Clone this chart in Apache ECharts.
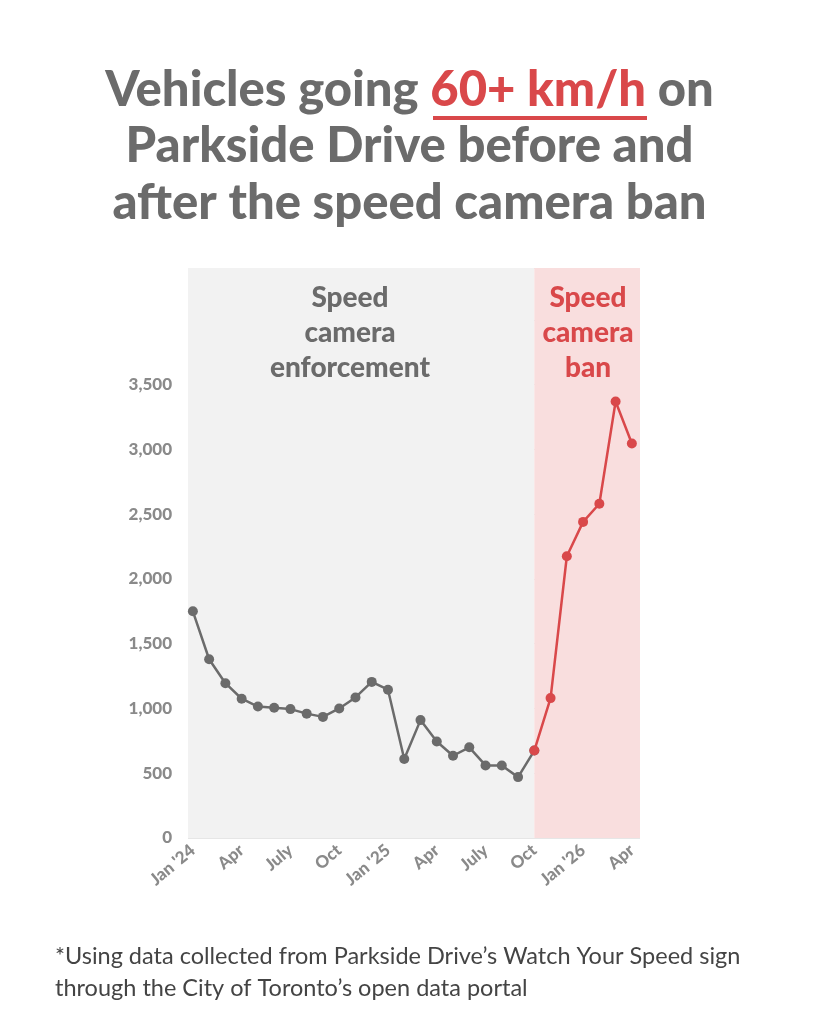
<!DOCTYPE html>
<html><head><meta charset="utf-8">
<script src="https://cdn.jsdelivr.net/npm/echarts@6/dist/echarts.min.js"></script>
<style>html,body{margin:0;padding:0;background:#fff}#c{width:819px;height:1024px}</style>
</head><body><div id="c"></div>
<script>
const months = ["Jan '24","Feb","Mar","Apr","May","Jun","July","Aug","Sep","Oct","Nov","Dec",
"Jan '25","Feb","Mar","Apr","May","Jun","July","Aug","Sep","Oct","Nov","Dec","Jan '26","Feb","Mar","Apr"];
const values = [1750,1380,1195,1075,1015,1005,995,960,935,1000,1085,1205,
1145,610,910,745,635,700,560,560,470,675,1080,2175,2440,2580,3370,3045];
const banStart = 21;
const tickIdx = [0,3,6,9,12,15,18,21,24,27];
const yTicks = [0,500,1000,1500,2000,2500,3000,3500];
const GRAY='#6b6b6b', RED='#d9484a';
const beforeData = values.slice(0,banStart+1).map((v,i)=>[i,v]);
const afterData = values.slice(banStart).map((v,i)=>[i+banStart,v]);
const chart = echarts.init(document.getElementById('c'));
const F='Lato';
chart.setOption({
  backgroundColor:'#fff',
  animation:false,
  grid:{left:188,right:179,top:268,bottom:186},
  xAxis:{type:'value',min:-0.3,max:27.5,
    axisLine:{show:false},splitLine:{show:false},axisTick:{show:false},
    axisLabel:{customValues:tickIdx,rotate:40,margin:10,color:'#8a8a8a',fontFamily:F,fontWeight:900,fontSize:17,
      formatter:v=>months[Math.round(v)]}},
  yAxis:{type:'value',min:0,max:4400,interval:500,
    axisLine:{show:false},axisTick:{show:false},
    splitLine:{lineStyle:{color:'#e6e6e6',width:1}},
    axisLabel:{customValues:yTicks,color:'#8a8a8a',fontFamily:F,fontWeight:900,fontSize:17,margin:16,
      formatter:v=>v.toLocaleString('en-US')}},
  series:[
    {type:'line',data:beforeData,color:GRAY,lineStyle:{width:2.5,color:GRAY},symbol:'circle',symbolSize:10,
     itemStyle:{color:GRAY},z:3,
     markArea:{silent:true,itemStyle:{color:'#f2f2f2'},data:[[{xAxis:-0.3,yAxis:0},{xAxis:banStart,yAxis:4400}]]}},
    {type:'line',data:afterData,color:RED,lineStyle:{width:2.5,color:RED},symbol:'circle',symbolSize:10,
     itemStyle:{color:RED},z:4,
     markArea:{silent:true,itemStyle:{color:'#f9dede'},data:[[{xAxis:banStart,yAxis:0},{xAxis:27.5,yAxis:4400}]]}}
  ],
  graphic:[
    {type:'text',left:'center',top:66,z:100,style:{text:'{a|Vehicles going }{r|60+ km/h}{a| on}',rich:{
      a:{fontFamily:F,fontWeight:900,fontSize:49,fill:GRAY},r:{fontFamily:F,fontWeight:900,fontSize:49,fill:RED}}}},
    {type:'rect',z:100,shape:{x:433,y:116,width:214,height:4},style:{fill:RED}},
    {type:'text',left:'center',top:122,z:100,style:{text:'Parkside Drive before and',fontFamily:F,fontWeight:900,fontSize:49,fill:GRAY}},
    {type:'text',left:'center',top:179,z:100,style:{text:'after the speed camera ban',fontFamily:F,fontWeight:900,fontSize:49,fill:GRAY}},
    {type:'text',x:350,y:280,z:100,style:{text:'Speed\ncamera\nenforcement',align:'center',fontFamily:F,fontWeight:900,fontSize:28,lineHeight:35,fill:GRAY}},
    {type:'text',x:588,y:280,z:100,style:{text:'Speed\ncamera\nban',align:'center',fontFamily:F,fontWeight:900,fontSize:28,lineHeight:35,fill:RED}},
    {type:'text',x:55,y:940,z:100,style:{text:'*Using data collected from Parkside Drive\u2019s Watch Your Speed sign\nthrough the City of Toronto\u2019s open data portal',
      fontFamily:F,fontSize:23.5,lineHeight:32,fill:'#444'}}
  ]
});
</script></body></html>
